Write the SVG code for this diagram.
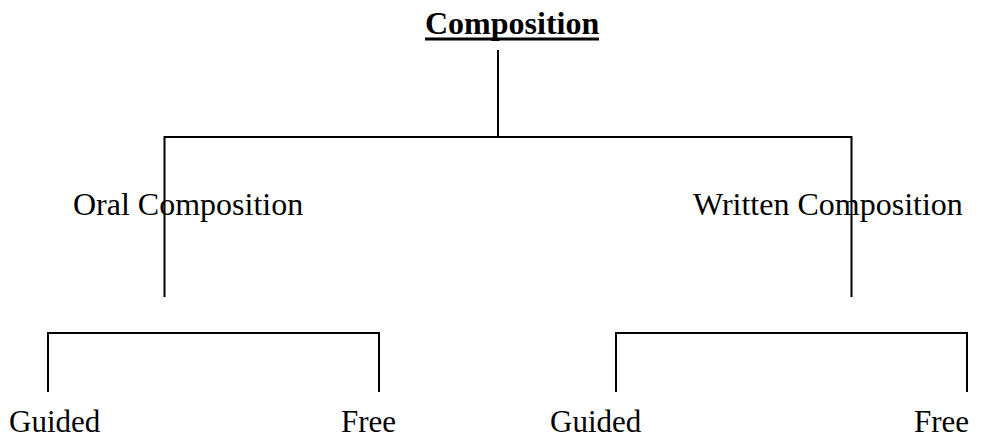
<svg xmlns="http://www.w3.org/2000/svg" width="981" height="439" viewBox="0 0 981 439">
  <style>
    .lbl { font-family: "Liberation Serif", "Times New Roman", serif; font-size: 31px; fill: #000; }
    .mid { font-size: 32px; }
    .title { font-family: "Liberation Serif", "Times New Roman", serif; font-size: 32px; font-weight: bold; fill: #000; }
    .ln { stroke: #000; stroke-width: 2; fill: none; }
  </style>
  <rect width="981" height="439" fill="#fff"/>

  <g id="connectors">
    <!-- root stem and first-level bracket -->
    <line class="ln" x1="498" y1="50" x2="498" y2="137"/>
    <polyline class="ln" points="164.5,297 164.5,137 851.5,137 851.5,297"/>
    <!-- oral branch bracket -->
    <polyline class="ln" points="48,392 48,333 379,333 379,392"/>
    <!-- written branch bracket -->
    <polyline class="ln" points="616,392 616,333 967,333 967,392"/>
  </g>

  <g id="composition">
    <text class="title" x="425" y="34">Composition</text>
    <rect x="425" y="37.5" width="174" height="3" fill="#000"/>
  </g>
  <g id="oral">
    <text class="lbl mid" x="73" y="215">Oral Composition</text>
  </g>
  <g id="written">
    <text class="lbl mid" x="693" y="215">Written Composition</text>
  </g>
  <g id="oral-guided">
    <text class="lbl" x="9" y="432">Guided</text>
  </g>
  <g id="oral-free">
    <text class="lbl" x="341" y="432">Free</text>
  </g>
  <g id="written-guided">
    <text class="lbl" x="550" y="432">Guided</text>
  </g>
  <g id="written-free">
    <text class="lbl" x="914" y="432">Free</text>
  </g>
</svg>
